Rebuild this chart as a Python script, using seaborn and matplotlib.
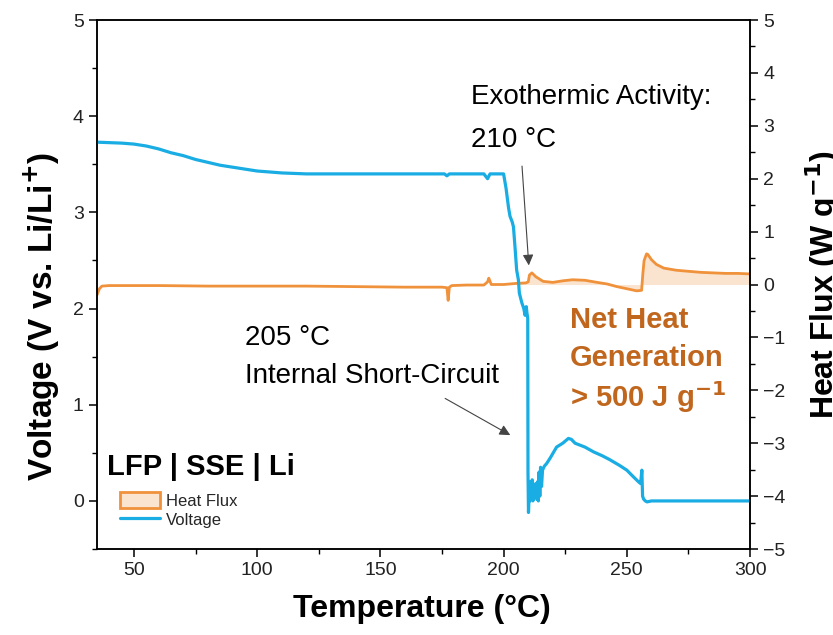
import numpy as np
import pandas as pd
import matplotlib
matplotlib.use("Agg")
import matplotlib.pyplot as plt
import seaborn as sns
from matplotlib.patches import Patch
from matplotlib.lines import Line2D
from matplotlib.ticker import MultipleLocator

# ---------------- data ----------------
volt_temp = [35, 45, 50, 55, 60, 65, 70, 75, 80, 85, 90, 95, 100, 110, 120, 130, 140, 150, 160, 170,
             176, 177, 178, 185, 192, 193.5, 194.5, 196, 200, 201, 202, 202.6, 203.5, 204, 204.6, 205.3,
             206, 206.4, 207.4, 208.2, 208.7, 209.2, 209.5, 209.8, 209.9, 210.1, 210.4, 210.7, 211.0,
             211.3, 211.6, 211.9, 212.2, 212.6, 213.0, 213.4, 213.8, 214.1, 214.4, 214.7, 215.0, 215.4,
             215.8, 216.5, 217.5, 219, 221.5, 224, 226.3, 227.5, 229, 231, 233, 236.5, 240, 243, 247,
             250, 252.7, 254.7, 255.6, 256.1, 256.4, 256.8, 257.5, 258.2, 260, 280, 300]
voltage = [3.73, 3.72, 3.71, 3.69, 3.66, 3.62, 3.59, 3.55, 3.52, 3.49, 3.47, 3.45, 3.43, 3.41, 3.40,
           3.40, 3.40, 3.40, 3.40, 3.40, 3.40, 3.38, 3.40, 3.40, 3.40, 3.35, 3.40, 3.40, 3.40, 3.25,
           3.05, 2.96, 2.90, 2.85, 2.65, 2.40, 2.30, 2.16, 2.06, 2.00, 1.93, 2.02, 1.95, 1.90, 0.3,
           -0.12, 0.08, 0.0, 0.2, 0.05, 0.22, 0.0, 0.15, 0.05, 0.18, 0.02, 0.2, 0.0, 0.3, 0.05, 0.35,
           0.15, 0.32, 0.36, 0.39, 0.45, 0.56, 0.60, 0.65, 0.64, 0.60, 0.58, 0.56, 0.51, 0.47, 0.43,
           0.37, 0.32, 0.25, 0.20, 0.18, 0.32, 0.05, 0.02, 0.0, -0.01, 0.0, 0.0, 0.0]

hf_temp = [35, 36, 37, 40, 60, 80, 100, 120, 140, 160, 175, 177, 177.5, 178, 179, 185, 192, 193.5,
           194, 195, 200, 205, 209, 210, 210.5, 211.5, 213, 216, 220, 224, 228, 233, 238, 242, 246,
           250, 254, 256, 256.5, 257, 258, 258.5, 260, 262, 265, 270, 275, 280, 285, 290, 295, 300]
heat_flux = [-0.2, -0.08, -0.03, -0.02, -0.02, -0.03, -0.03, -0.03, -0.04, -0.05, -0.05, -0.06, -0.3,
             -0.05, -0.02, -0.01, -0.01, 0.05, 0.12, 0.0, 0.0, 0.02, 0.03, 0.05, 0.18, 0.22, 0.15,
             0.06, 0.04, 0.07, 0.09, 0.08, 0.04, 0.01, -0.04, -0.08, -0.12, -0.11, 0.2, 0.45, 0.58,
             0.57, 0.47, 0.38, 0.31, 0.27, 0.25, 0.23, 0.22, 0.21, 0.21, 0.2]

fill_start = 205

x_ticks = [50, 100, 150, 200, 250, 300]
volt_ticks = [0, 1, 2, 3, 4, 5]
hf_ticks = [-5, -4, -3, -2, -1, 0, 1, 2, 3, 4, 5]

BLUE = "#19ADE3"
ORANGE = "#F0923B"
FILL = "#FAE4D0"
BROWN = "#C0661D"

# ---------------- style ----------------
sns.set_theme(style="ticks")
plt.rcParams["font.family"] = ["Liberation Sans", "DejaVu Sans"]
plt.rcParams["axes.unicode_minus"] = True

df_v = pd.DataFrame({"T": volt_temp, "V": voltage})
df_h = pd.DataFrame({"T": hf_temp, "H": heat_flux})

fig = plt.figure(figsize=(8.33, 6.35), dpi=100)
ax = fig.add_axes([0.1164, 0.1354, 0.784, 0.8331])
ax2 = ax.twinx()

# heat flux on right axis
mask = df_h["T"] >= fill_start
ax2.fill_between(df_h["T"][mask], df_h["H"][mask], 0, color=FILL, lw=0)
sns.lineplot(data=df_h, x="T", y="H", ax=ax2, color=ORANGE, lw=2.0,
             estimator=None, sort=False, legend=False)

# voltage on left axis
sns.lineplot(data=df_v, x="T", y="V", ax=ax, color=BLUE, lw=2.3,
             estimator=None, sort=False, legend=False)

ax.set_zorder(ax2.get_zorder() + 1)
ax.patch.set_visible(False)

ax.set_xlim(35, 300)
ax.set_ylim(-0.5, 5)
ax2.set_ylim(-5, 5)
ax.set_xticks(x_ticks)
ax.set_yticks(volt_ticks)
ax2.set_yticks(hf_ticks)
ax.xaxis.set_minor_locator(MultipleLocator(25))
ax.yaxis.set_minor_locator(MultipleLocator(0.5))
ax2.yaxis.set_minor_locator(MultipleLocator(0.5))

for a in (ax, ax2):
    a.tick_params(which="major", direction="out", length=6, width=1.1, labelsize=14,
                  color="black", labelcolor="#222222")
    a.tick_params(which="minor", direction="out", length=3.5, width=1.0, color="black")
    for s in a.spines.values():
        s.set_color("black")
        s.set_linewidth(1.1)
ax.tick_params(top=False, right=False, which="both")

ax.set_xlabel("Temperature (°C)", fontsize=23, fontweight="bold", color="black")
ax.set_ylabel("Voltage (V vs. Li/Li$^{\\mathbf{+}}$)", fontsize=24, fontweight="bold", color="black")
ax2.set_ylabel("Heat Flux (W g$^{\\mathbf{-1}}$)", fontsize=23, fontweight="bold", color="black")
ax.xaxis.set_label_coords(0.498, -0.085)
ax.yaxis.set_label_coords(-0.054, 0.44)
ax2.yaxis.set_label_coords(1.082, 0.5)

# annotations
ax.text(186.7, 4.20, "Exothermic Activity:", fontsize=20, va="center", ha="left", color="black")
ax.text(186.7, 3.75, "210 °C", fontsize=20, va="center", ha="left", color="black")
ax.annotate("", xy=(210.3, 2.42), xytext=(207.4, 3.51),
            arrowprops=dict(arrowstyle="-|>", color="#444444", lw=0.8, mutation_scale=16))

ax.text(95.1, 1.69, "205 °C", fontsize=20, va="center", ha="left", color="black")
ax.text(95.1, 1.30, "Internal Short-Circuit", fontsize=20, va="center", ha="left", color="black")
ax.annotate("", xy=(203.7, 0.67), xytext=(175.3, 1.08),
            arrowprops=dict(arrowstyle="-|>", color="#444444", lw=0.8, mutation_scale=16))

ax.text(227, 1.88, "Net Heat", fontsize=21, fontweight="bold", color=BROWN, va="center", ha="left")
ax.text(227, 1.49, "Generation", fontsize=21, fontweight="bold", color=BROWN, va="center", ha="left")
ax.text(227, 1.08, "> 500 J g$^{\\mathbf{-1}}$", fontsize=21, fontweight="bold", color=BROWN,
        va="center", ha="left")

ax.text(0.016, 0.155, "LFP | SSE | Li", transform=ax.transAxes, fontsize=21, fontweight="bold",
        color="black", va="center", ha="left")

handles = [Patch(facecolor=FILL, edgecolor=ORANGE, linewidth=2.0, label="Heat Flux"),
           Line2D([0], [0], color=BLUE, lw=2.3, label="Voltage")]
ax.legend(handles=handles, loc="upper left", bbox_to_anchor=(0.035, 0.108), frameon=False,
          fontsize=12, handlelength=2.4, handleheight=1.1, handletextpad=0.35,
          labelspacing=0.15, borderaxespad=0.0, borderpad=0.0)

fig.savefig("out.png", dpi=100)
